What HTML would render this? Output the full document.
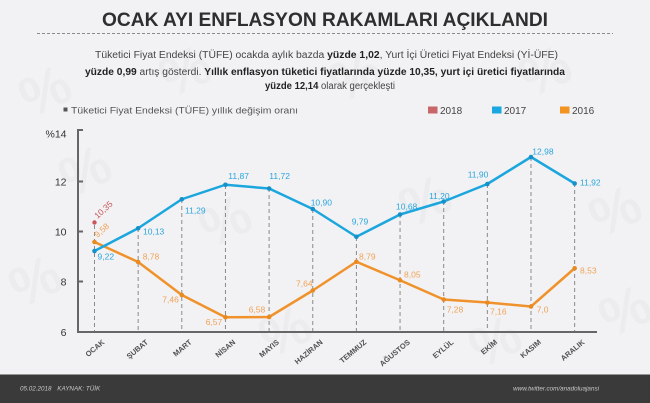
<!DOCTYPE html>
<html><head><meta charset="utf-8">
<style>
html,body{margin:0;padding:0;background:#f2f2f4;}
svg{display:block;}
text{font-family:"Liberation Sans",sans-serif;}
</style></head>
<body>
<svg width="650" height="403" viewBox="0 0 650 403" xmlns="http://www.w3.org/2000/svg">
<rect x="0" y="0" width="650" height="403" fill="#f2f2f4"/>
<!-- faint watermarks -->
<g fill="#ececef" font-size="56" font-weight="bold">
<text x="20" y="110" transform="rotate(-25 45 90)">%</text>
<text x="160" y="90" transform="rotate(-25 185 70)">%</text>
<text x="330" y="95" transform="rotate(-25 355 75)">%</text>
<text x="520" y="90" transform="rotate(-25 545 70)">%</text>
<text x="60" y="190" transform="rotate(-25 85 170)">%</text>
<text x="200" y="240" transform="rotate(-25 225 220)">%</text>
<text x="400" y="220" transform="rotate(-25 425 200)">%</text>
<text x="590" y="230" transform="rotate(-25 615 210)">%</text>
<text x="10" y="300" transform="rotate(-25 35 280)">%</text>
<text x="260" y="350" transform="rotate(-25 285 330)">%</text>
<text x="470" y="360" transform="rotate(-25 495 340)">%</text>
<text x="600" y="330" transform="rotate(-25 625 310)">%</text>
</g>

<!-- title -->
<text x="102" y="26" font-size="19.5" font-weight="bold" fill="#2e2e2e" textLength="446" lengthAdjust="spacingAndGlyphs">OCAK AYI ENFLASYON RAKAMLARI AÇIKLANDI</text>
<line x1="37" y1="33.5" x2="613" y2="33.5" stroke="#8a8a8a" stroke-width="1" stroke-dasharray="3,2"/>

<!-- subtitle -->
<text x="95" y="58" font-size="10" fill="#444" textLength="463" lengthAdjust="spacingAndGlyphs">Tüketici Fiyat Endeksi (TÜFE) ocakda aylık bazda <tspan font-weight="bold" fill="#222">yüzde 1,02</tspan>, Yurt İçi Üretici Fiyat Endeksi (Yİ-ÜFE)</text>
<text x="85" y="75" font-size="10" fill="#444" textLength="480" lengthAdjust="spacingAndGlyphs"><tspan font-weight="bold" fill="#222">yüzde 0,99</tspan> artış gösterdi. <tspan font-weight="bold" fill="#222">Yıllık enflasyon tüketici fiyatlarında yüzde 10,35, yurt içi üretici fiyatlarında</tspan></text>
<text x="265" y="89" font-size="10" fill="#444" textLength="130" lengthAdjust="spacingAndGlyphs"><tspan font-weight="bold" fill="#222">yüzde 12,14</tspan> olarak gerçekleşti</text>

<!-- legend -->
<rect x="63.5" y="107.5" width="4" height="4" fill="#555"/>
<text x="71" y="113.5" font-size="9.5" fill="#555" textLength="227" lengthAdjust="spacingAndGlyphs">Tüketici Fiyat Endeksi (TÜFE) yıllık değişim oranı</text>
<rect x="428" y="106.5" width="9.5" height="7" fill="#c9666a"/>
<text x="440" y="114" font-size="10" fill="#444">2018</text>
<rect x="492" y="106.5" width="9.5" height="7" fill="#1ba8e0"/>
<text x="504" y="114" font-size="10" fill="#444">2017</text>
<rect x="560" y="106.5" width="9.5" height="7" fill="#f39322"/>
<text x="572" y="114" font-size="10" fill="#444">2016</text>

<!-- y labels -->
<g font-size="10.5" fill="#333" text-anchor="end">
<text x="66.5" y="137.5">%14</text>
<text x="66.5" y="185.5">12</text>
<text x="66.5" y="235.5">10</text>
<text x="66.5" y="285.5">8</text>
<text x="66.5" y="336">6</text>
</g>

<!-- dashed verticals -->
<g stroke="#8a8a8a" stroke-width="1" stroke-dasharray="4,3">
<line x1="94.5" y1="225" x2="94.5" y2="331"/>
<line x1="138.15" y1="228" x2="138.15" y2="331"/>
<line x1="181.8" y1="199" x2="181.8" y2="331"/>
<line x1="225.45" y1="185" x2="225.45" y2="331"/>
<line x1="269.1" y1="188" x2="269.1" y2="331"/>
<line x1="312.75" y1="209" x2="312.75" y2="331"/>
<line x1="356.4" y1="237" x2="356.4" y2="331"/>
<line x1="400.05" y1="214" x2="400.05" y2="331"/>
<line x1="443.7" y1="201" x2="443.7" y2="331"/>
<line x1="487.35" y1="184" x2="487.35" y2="331"/>
<line x1="531" y1="157" x2="531" y2="331"/>
<line x1="574.65" y1="183" x2="574.65" y2="331"/>
</g>

<!-- axes -->
<g stroke="#666" stroke-width="2" fill="none">
<path d="M83 130 H78 V332 H597"/>
<line x1="78" y1="181.5" x2="83" y2="181.5"/>
<line x1="78" y1="231.5" x2="83" y2="231.5"/>
<line x1="78" y1="281.5" x2="83" y2="281.5"/>
</g>

<!-- series 2016 -->
<polyline fill="none" stroke="#f0922b" stroke-width="2.5" stroke-linejoin="round" points="94.5,242 138.15,262 181.8,295 225.45,317.25 269.1,317 312.75,290.5 356.4,261.75 400.05,280.25 443.7,299.5 487.35,302.5 531,306.5 574.65,268.25"/>
<g fill="#e88a20">
<circle cx="94.5" cy="242" r="2.3"/><circle cx="138.15" cy="262" r="2.3"/><circle cx="181.8" cy="295" r="2.3"/><circle cx="225.45" cy="317.25" r="2.3"/><circle cx="269.1" cy="317" r="2.3"/><circle cx="312.75" cy="290.5" r="2.3"/><circle cx="356.4" cy="261.75" r="2.3"/><circle cx="400.05" cy="280.25" r="2.3"/><circle cx="443.7" cy="299.5" r="2.3"/><circle cx="487.35" cy="302.5" r="2.3"/><circle cx="531" cy="306.5" r="2.3"/><circle cx="574.65" cy="268.25" r="2.3"/>
</g>

<!-- series 2017 -->
<polyline fill="none" stroke="#1ba6de" stroke-width="2.5" stroke-linejoin="round" points="94.5,251 138.15,228.25 181.8,199.25 225.45,184.75 269.1,188.5 312.75,209 356.4,236.75 400.05,214.5 443.7,201.5 487.35,184 531,157 574.65,183.5"/>
<g fill="#1690c8">
<circle cx="94.5" cy="251" r="2.3"/><circle cx="138.15" cy="228.25" r="2.3"/><circle cx="181.8" cy="199.25" r="2.3"/><circle cx="225.45" cy="184.75" r="2.3"/><circle cx="269.1" cy="188.5" r="2.3"/><circle cx="312.75" cy="209" r="2.3"/><circle cx="356.4" cy="236.75" r="2.3"/><circle cx="400.05" cy="214.5" r="2.3"/><circle cx="443.7" cy="201.5" r="2.3"/><circle cx="487.35" cy="184" r="2.3"/><circle cx="531" cy="157" r="2.3"/><circle cx="574.65" cy="183.5" r="2.3"/>
</g>

<!-- 2018 point -->
<circle cx="94.5" cy="222.5" r="2.2" fill="#c9565a"/>
<text x="97.5" y="219" font-size="8.5" fill="#c9565a" transform="rotate(-42 97.5 219)">10,35</text>
<text x="97.5" y="238" font-size="8.5" fill="#f0a257" transform="rotate(-42 97.5 238)">9,58</text>

<!-- blue labels -->
<g font-size="8.5" fill="#2aa6dc">
<text x="97.5" y="259.5">9,22</text>
<text x="143" y="234.5">10,13</text>
<text x="185" y="213.5">11,29</text>
<text x="228.3" y="179">11,87</text>
<text x="269.3" y="179">11,72</text>
<text x="310.7" y="205.5">10,90</text>
<text x="351.7" y="224.5">9,79</text>
<text x="396" y="209.5">10,68</text>
<text x="429" y="199">11,20</text>
<text x="467.7" y="177.5">11,90</text>
<text x="532.3" y="154.5">12,98</text>
<text x="580" y="185.5">11,92</text>
</g>
<!-- orange labels -->
<g font-size="8.5" fill="#f0a257">
<text x="142.7" y="259.5">8,78</text>
<text x="162.3" y="302.5">7,46</text>
<text x="205.7" y="325">6,57</text>
<text x="248.7" y="312.5">6,58</text>
<text x="296" y="286.5">7,64</text>
<text x="359" y="259.5">8,79</text>
<text x="404" y="277.5">8,05</text>
<text x="446.7" y="312.5">7,28</text>
<text x="490" y="314.5">7,16</text>
<text x="536.7" y="312.5">7,0</text>
<text x="580" y="273.5">8,53</text>
</g>

<!-- month labels -->
<g font-size="7.5" font-weight="bold" fill="#505050" text-anchor="end">
<text x="105" y="343" transform="rotate(-40 105 343)">OCAK</text>
<text x="148.65" y="343" transform="rotate(-40 148.65 343)">ŞUBAT</text>
<text x="192.3" y="343" transform="rotate(-40 192.3 343)">MART</text>
<text x="235.95" y="343" transform="rotate(-40 235.95 343)">NİSAN</text>
<text x="279.6" y="343" transform="rotate(-40 279.6 343)">MAYIS</text>
<text x="323.25" y="343" transform="rotate(-40 323.25 343)">HAZİRAN</text>
<text x="366.9" y="343" transform="rotate(-40 366.9 343)">TEMMUZ</text>
<text x="410.55" y="343" transform="rotate(-40 410.55 343)">AĞUSTOS</text>
<text x="454.2" y="343" transform="rotate(-40 454.2 343)">EYLÜL</text>
<text x="497.85" y="343" transform="rotate(-40 497.85 343)">EKİM</text>
<text x="541.5" y="343" transform="rotate(-40 541.5 343)">KASIM</text>
<text x="585.15" y="343" transform="rotate(-40 585.15 343)">ARALIK</text>
</g>

<!-- footer -->
<rect x="0" y="374.5" width="650" height="28.5" fill="#3a3a3a"/>
<text x="20" y="390.5" font-size="6.3" font-style="italic" fill="#c8c8c8">05.02.2018 <tspan dx="4">KAYNAK: TÜİK</tspan></text>
<text x="599" y="390.5" font-size="6.3" font-style="italic" fill="#c8c8c8" text-anchor="end">www.twitter.com/anadoluajansi</text>
</svg>
</body></html>
